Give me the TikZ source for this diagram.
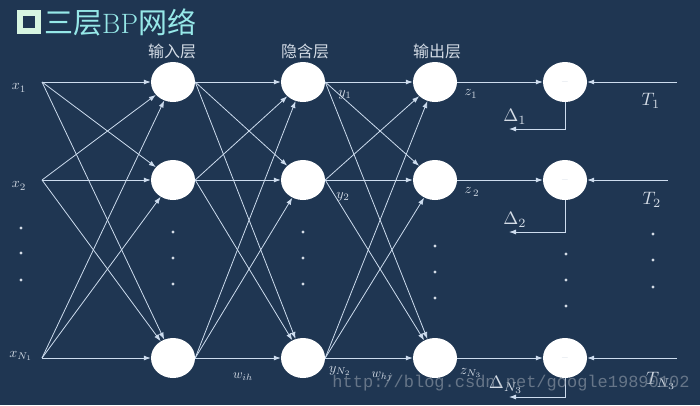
\documentclass[tikz,border=0pt]{standalone}
\usepackage{amsmath,amssymb}
\usepackage{fontspec}
\newfontfamily\cjk{Noto Sans CJK SC}
\setmonofont{Liberation Mono}
\usepackage{xcolor}
\usetikzlibrary{arrows.meta,shapes.geometric}

\definecolor{bgnavy}{RGB}{31,54,82}
\definecolor{linegrey}{RGB}{205,220,238}
\definecolor{lbl}{RGB}{212,220,230}
\definecolor{titlecyan}{RGB}{150,232,232}
\definecolor{boxmint}{RGB}{215,245,225}
\definecolor{markgrey}{RGB}{150,160,172}

\tikzset{
  neuron/.style={ellipse,fill=white,minimum width=44pt,minimum height=40pt,inner sep=0pt},
  link/.style={draw=linegrey,line width=0.8pt},
  lab/.style={text=lbl,inner sep=0pt},
  dotmark/.style={fill=lbl},
}

\begin{document}
\begin{tikzpicture}[x=1pt,y=-1pt,>={Latex[length=7pt,width=5pt]}]
  \fill[bgnavy] (0,0) rectangle (700,405);
  \useasboundingbox (0,0) rectangle (700,405);

  % title
  \node[draw=boxmint,line width=6pt,minimum size=18pt,inner sep=0pt] (tbox) at (29,22) {};
  \node[anchor=west,text=titlecyan,inner sep=0pt] (title) at (44,22)
    {\fontsize{29}{29}\selectfont\cjk 三层\rmfamily\fontsize{28}{28}\selectfont BP\cjk\fontsize{29}{29}\selectfont 网络};

  % layer names
  \node[lab] (lin) at (172,51) {\cjk\fontsize{16}{16}\selectfont 输入层};
  \node[lab] (lhid) at (305,51) {\cjk\fontsize{16}{16}\selectfont 隐含层};
  \node[lab] (lout) at (437,51) {\cjk\fontsize{16}{16}\selectfont 输出层};

  % neurons
  \foreach \r/\y in {1/82,2/180,3/358} {
    \coordinate (x\r) at (42,\y);
    \node[neuron] (in\r) at (173,\y) {};
    \node[neuron] (hid\r) at (303,\y) {};
    \node[neuron] (out\r) at (435,\y) {};
    \node[neuron] (err\r) at (565,\y) {\color{lbl}$-$};
  }
  \coordinate (t1) at (677,82);
  \coordinate (t2) at (668,180);
  \coordinate (t3) at (677,358);
  \coordinate (fb1) at (509,129);
  \coordinate (fb2) at (509,232);
  \coordinate (fb3) at (509,397);

  % full connections
  \foreach \i in {1,2,3} {
    \foreach \j in {1,2,3} {
      \draw[link,->] (x\i) -- (in\j);
      \draw[link,->] (in\i.east) -- (hid\j);
      \draw[link,->] (hid\i.east) -- (out\j);
    }
    \draw[link,->] (out\i.east) -- (err\i);
    \draw[link,->] (t\i) -- (err\i);
    \draw[link,->] (err\i.south) |- (fb\i);
  }

  % dots
  \foreach \y in {228,253,280} \fill[dotmark] (21,\y) circle (1.7pt);
  \foreach \y in {232,258,284} {
    \fill[dotmark] (173,\y) circle (1.7pt);
    \fill[dotmark] (303,\y) circle (1.7pt);
  }
  \foreach \y in {246,272,298} \fill[dotmark] (435,\y) circle (1.7pt);
  \foreach \y in {254,280,306} \fill[dotmark] (566,\y) circle (1.7pt);
  \foreach \y in {234,260,287} \fill[dotmark] (653,\y) circle (1.7pt);

  % labels
  \node[lab,scale=1.4] (lx1) at (19,88) {$x_1$};
  \node[lab,scale=1.4] (lx2) at (19,186) {$x_2$};
  \node[lab,scale=1.4] (lx3) at (21,356) {$x_{N_1}$};
  \node[lab,scale=1.4] (ly1) at (345,95) {$y_1$};
  \node[lab,scale=1.4] (ly2) at (343,197) {$y_2$};
  \node[lab,scale=1.4] (ly3) at (340,371) {$y_{N_2}$};
  \node[lab,scale=1.4] (lz1) at (471,94) {$z_1$};
  \node[lab,scale=1.4] (lz2) at (472,192) {$z_{\,2}$};
  \node[lab,scale=1.4] (lz3) at (471,373) {$z_{N_3}$};
  \node[lab,scale=1.3] (lwih) at (243,377) {$w_{ih}$};
  \node[lab,scale=1.3] (lwhj) at (382,377) {$w_{hj}$};
  \node[lab,scale=1.8] (ld1) at (515,117) {$\Delta_1$};
  \node[lab,scale=1.8] (ld2) at (515,220) {$\Delta_2$};
  \node[lab,scale=1.8] (ld3) at (506,385) {$\Delta_{N_3}$};
  \node[lab,scale=1.8] (lt1) at (651,101) {$T_1$};
  \node[lab,scale=1.8] (lt2) at (652,200) {$T_2$};
  \node[lab,scale=1.8] (lt3) at (661,381) {$T_{N_3}$};

  % watermark
  \node[text=markgrey,opacity=0.6,inner sep=0pt] (mark) at (511,383)
    {\ttfamily\fontsize{17}{17}\selectfont http://blog.csdn.net/google19890102};
\end{tikzpicture}
\end{document}
